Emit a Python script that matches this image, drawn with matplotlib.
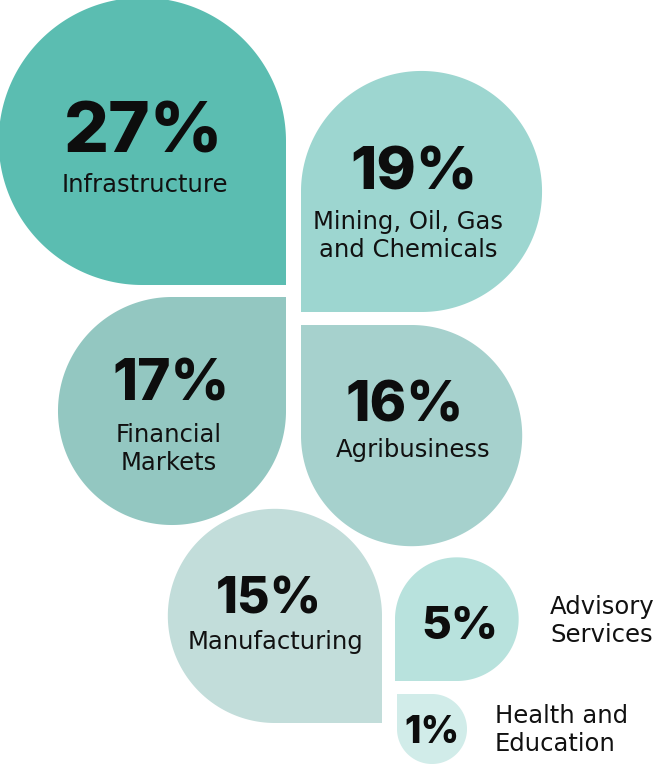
import numpy as np
import matplotlib.pyplot as plt
from matplotlib.patches import Polygon

# sector shares (%)
sectors = ['Infrastructure', 'Mining, Oil, Gas and Chemicals', 'Financial Markets',
           'Agribusiness', 'Manufacturing', 'Advisory Services', 'Health and Education']
shares = [27, 19, 17, 16, 15, 5, 1]
label_lines = [['Infrastructure'], ['Mining, Oil, Gas', 'and Chemicals'], ['Financial', 'Markets'],
               ['Agribusiness'], ['Manufacturing'], ['Advisory', 'Services'], ['Health and', 'Education']]

colors = ['#5BBDB1', '#9DD6D0', '#93C7C1', '#A6D1CD', '#C2DDDA', '#B8E2DD', '#D1ECE9']

# layout: square corner point, corner direction (sx, sy) in image coords (y down)
corners = [(286, 285), (301, 312), (286, 297), (301, 325), (382, 723), (395, 681), (397, 694)]
corner_dir = [(1, 1), (-1, 1), (1, -1), (-1, -1), (1, 1), (-1, 1), (-1, -1)]
# percent label position (center x, baseline) and font size
pct_pos = [(144, 152), (414, 189), (171, 400), (405, 421), (269, 613), (460, 639), (432, 743)]
pct_size = [51, 43, 41, 40, 36, 33, 27]
# category label: anchor x, first baseline, alignment
lab_pos = [(145, 192, 'center'), (408, 229, 'center'), (169, 442, 'center'), (413, 457, 'center'),
           (276, 649, 'center'), (550, 614, 'left'), (495, 723, 'left')]
line_gap = 28


def diameter(v):
    # area-proportional size, with a floor for tiny shares
    return max(55.3 * np.sqrt(v), 70)


def teardrop(corner, sdir, d):
    sx, sy = sdir
    r = d / 2
    cx, cy = corner[0] - sx * r, corner[1] - sy * r
    tc = np.arctan2(sy, sx)
    t = np.linspace(tc + np.pi / 4, tc + np.pi / 4 + 1.5 * np.pi, 300)
    pts = np.column_stack([cx + r * np.cos(t), cy + r * np.sin(t)])
    pts = np.vstack([pts, [corner]])
    return pts


fig = plt.figure(figsize=(6.66, 7.65), dpi=100)
ax = fig.add_axes([0, 0, 1, 1])
ax.set_xlim(0, 666)
ax.set_ylim(765, 0)
ax.axis('off')

for i, v in enumerate(shares):
    pts = teardrop(corners[i], corner_dir[i], diameter(v))
    ax.add_patch(Polygon(pts, closed=True, facecolor=colors[i], edgecolor='none'))

    px, py = pct_pos[i]
    ax.text(px, py, f'{v}%', ha='center', va='baseline', fontsize=pct_size[i],
            fontfamily='Inter', fontweight=800, fontstyle='normal', color='#0d0d0d')

    lx, ly, ha = lab_pos[i]
    for j, line in enumerate(label_lines[i]):
        ax.text(lx, ly + j * line_gap, line, ha=ha, va='baseline', fontsize=17.5,
                fontfamily='DejaVu Sans', color='#111111')

fig.savefig('out.png', dpi=100)
